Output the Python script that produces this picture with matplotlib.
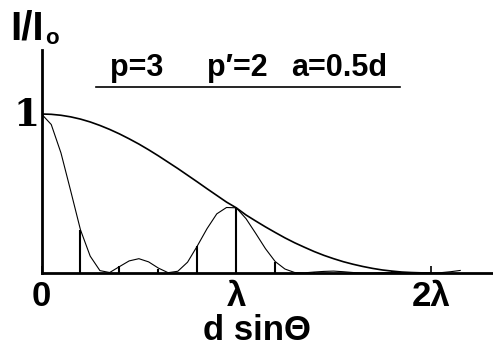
import matplotlib
matplotlib.use("Agg")
import matplotlib.pyplot as plt

plt.rcParams['font.family'] = ['Liberation Sans Narrow', 'Liberation Sans', 'DejaVu Sans']

# d sin(theta) in units of lambda, intensity I/Io
x_curve = [0.0, 0.05, 0.1, 0.15, 0.2, 0.25, 0.3, 0.35, 0.4, 0.45,
           0.5, 0.55, 0.6, 0.65, 0.7, 0.75, 0.8, 0.85, 0.9, 0.95,
           1.0, 1.05, 1.1, 1.15, 1.2, 1.25, 1.3, 1.35, 1.4, 1.45,
           1.5, 1.55, 1.6, 1.65, 1.7, 1.75, 1.8, 1.85, 1.9, 1.95,
           2.0, 2.05, 2.1, 2.15]
i_curve = [1.0, 0.934, 0.755, 0.516, 0.272, 0.106, 0.015, 0.003, 0.040, 0.076,
           0.090, 0.070, 0.031, 0.002, 0.011, 0.068, 0.170, 0.279, 0.372, 0.412,
           0.410, 0.342, 0.249, 0.153, 0.072, 0.025, 0.003, 0.001, 0.006, 0.010,
           0.012, 0.008, 0.003, 0.000, 0.000, 0.002, 0.004, 0.003, 0.002, 0.001,
           0.0, 0.002, 0.008, 0.016]

# envelope (single slit, a = 0.5d)
x_env = [0.0, 0.05, 0.1, 0.15, 0.2, 0.25, 0.3, 0.35, 0.4, 0.45,
         0.5, 0.55, 0.6, 0.65, 0.7, 0.75, 0.8, 0.85, 0.9, 0.95,
         1.0, 1.05, 1.1, 1.15, 1.2, 1.25, 1.3, 1.35, 1.4, 1.45,
         1.5, 1.55, 1.6, 1.65, 1.7, 1.75, 1.8, 1.85, 1.9, 1.95, 2.0]
i_env = [1.0, 0.998, 0.992, 0.982, 0.968, 0.950, 0.928, 0.903, 0.875, 0.844,
         0.811, 0.775, 0.737, 0.697, 0.657, 0.615, 0.573, 0.530, 0.488, 0.446,
         0.410, 0.365, 0.327, 0.290, 0.255, 0.221, 0.190, 0.162, 0.135, 0.111,
         0.090, 0.071, 0.055, 0.041, 0.029, 0.019, 0.012, 0.006, 0.003, 0.001, 0.0]

# sticks
x_sticks = [0.2, 0.4, 0.6, 0.8, 1.0, 1.2, 1.4, 1.6, 1.8]
h_sticks = [0.272, 0.042, 0.025, 0.172, 0.410, 0.072, 0.006, 0.004, 0.012]

tick_pos = [0, 1, 2]
tick_labels = ['0', 'λ', '2λ']

W, H = 493, 348
fig = plt.figure(figsize=(W / 100, H / 100), dpi=100)
ax = fig.add_axes([41.5 / W, 75 / H, (W - 41.5) / W, 223 / H])
ax.set_xlim(0, (W - 41.5) / 194.75)
ax.set_ylim(0, 223 / 159)

ax.plot(x_curve, i_curve, color='black', lw=0.8)
ax.plot(x_env, i_env, color='black', lw=1.2)
ax.vlines(x_sticks, 0, h_sticks, color='black', lw=1.5)

for s in ['top', 'right']:
    ax.spines[s].set_visible(False)
for s in ['left', 'bottom']:
    ax.spines[s].set_linewidth(2)

ax.set_yticks([])
ax.set_xticks(tick_pos)
ax.set_xticklabels(tick_labels, fontsize=25, fontweight='bold')
ax.tick_params(axis='x', direction='in', length=5, width=1.2, pad=5)


def ft(x, y, s, **kw):
    fig.text(x / W, 1 - y / H, s, ha='center', va='center', fontweight='bold', **kw)


ft(26, 116, '1', fontsize=27, family=['DejaVu Serif'])
ft(27, 28, 'I/I', fontsize=29)
ft(52, 38, 'o', fontsize=16)
ft(137, 68, 'p=3', fontsize=22)
ft(237, 68, 'p′=2', fontsize=22)
ft(339, 68, 'a=0.5d', fontsize=22)
ft(257, 331, 'd sinΘ', fontsize=25)
fig.add_artist(plt.Line2D([96 / W, 400 / W], [1 - 87 / H, 1 - 87 / H], color='black', lw=1.2))

fig.savefig('out.png', dpi=100)
